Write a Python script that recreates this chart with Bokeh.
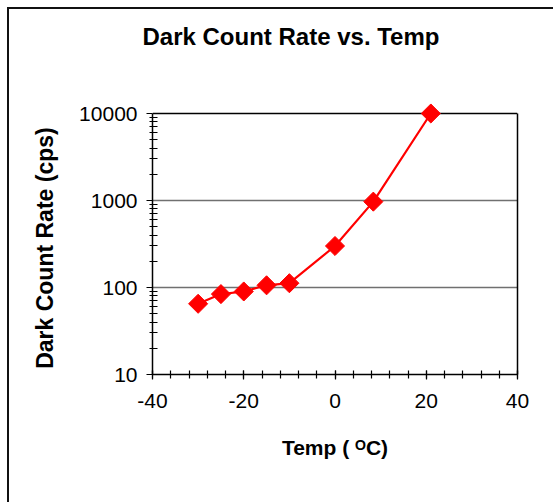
import math
from bokeh.plotting import figure
from bokeh.models import (FixedTicker, NumeralTickFormatter, Title, Span, LogAxis)
from bokeh.embed import file_html
from bokeh.resources import INLINE

# ---- data ----
temps = [-30, -25, -20, -15, -10, 0, 8.4, 21]
rates = [65, 84, 90, 106, 112, 300, 970, 10000]

x_ticks = [-40, -20, 0, 20, 40]
x_minor = list(range(-40, 41, 4))
y_ticks = [10, 100, 1000, 10000]
y_minor = [m * d for d in (10, 100, 1000) for m in range(2, 10)]
grid_levels = [100, 1000]

title_text = "Dark Count Rate vs. Temp"
y_label = "Dark Count Rate (cps)"
x_label = "Temp ( \u1D3CC)"

FONT = "Liberation Sans"

# layout: the plotted decades take 261 px; a little head-room above the top
# value lets the top marker show in full (the frame itself is drawn by axes)
core_h = 261
pad_px = 11
y_lo, y_hi = y_ticks[0], y_ticks[-1]
decades = math.log10(y_hi / y_lo)
y_end = y_hi * 10 ** (decades * pad_px / core_h)

p = figure(width=546, height=495, y_axis_type="log",
           x_range=(x_ticks[0], x_ticks[-1]), y_range=(y_lo, y_end),
           output_backend="svg", toolbar_location=None,
           min_border_left=143, min_border_right=38,
           min_border_top=104 - pad_px, min_border_bottom=130)

p.styles = {"margin-left": "7px", "margin-top": "7px",
            "border-left": "2px solid #111", "border-top": "2px solid #111"}

p.background_fill_color = "white"
p.border_fill_color = "white"
p.outline_line_color = None

# spacer between the frame and the title (nearest the frame)
p.add_layout(Title(text=" ", text_font_size="1px", standoff=50), "above")

# title (outermost)
p.title.text = title_text
p.title.text_font = FONT
p.title.text_font_size = "24px"
p.title.text_font_style = "bold"
p.title.text_color = "black"
p.title.align = "left"
p.title.offset = -10
p.title.standoff = 0

# grids
p.xgrid.grid_line_color = None
p.ygrid.ticker = FixedTicker(ticks=grid_levels)
p.ygrid.grid_line_color = "#707070"
p.ygrid.grid_line_width = 1.5

# top edge of the plot area
p.add_layout(Span(location=y_hi, dimension="width", line_color="black",
                  line_width=1.5, level="underlay"))

# right edge of the plot area
ra = LogAxis(bounds=(y_lo, y_hi), ticker=FixedTicker(ticks=[]),
             axis_line_color="black", axis_line_width=1.5,
             major_tick_in=0, major_tick_out=0, minor_tick_in=0, minor_tick_out=0,
             major_label_text_font_size="0px")
p.add_layout(ra, "right")

# x axis
xa = p.xaxis[0]
xa.ticker = FixedTicker(ticks=x_ticks, minor_ticks=x_minor)
xa.formatter = NumeralTickFormatter(format="0")
xa.axis_line_color = "black"
xa.axis_line_width = 1.5
xa.major_tick_in = 4
xa.major_tick_out = 5
xa.minor_tick_in = 4
xa.minor_tick_out = 4
xa.major_tick_line_color = "black"
xa.minor_tick_line_color = "black"
xa.major_tick_line_width = 1.2
xa.minor_tick_line_width = 1.2
xa.major_label_text_font = FONT
xa.major_label_text_font_size = "21px"
xa.major_label_text_color = "black"
xa.major_label_standoff = 14
xa.axis_label = x_label
xa.axis_label_text_font = FONT
xa.axis_label_text_font_size = "21px"
xa.axis_label_text_font_style = "bold"
xa.axis_label_text_color = "black"
xa.axis_label_standoff = 25

# y axis
ya = p.yaxis[0]
ya.bounds = (y_lo, y_hi)
ya.ticker = FixedTicker(ticks=y_ticks, minor_ticks=y_minor)
ya.formatter = NumeralTickFormatter(format="0")
ya.axis_line_color = "black"
ya.axis_line_width = 1.5
ya.major_tick_in = 0
ya.major_tick_out = 6
ya.minor_tick_in = 5
ya.minor_tick_out = 3
ya.major_tick_line_color = "black"
ya.minor_tick_line_color = "black"
ya.major_tick_line_width = 1.2
ya.minor_tick_line_width = 1.2
ya.major_label_text_font = FONT
ya.major_label_text_font_size = "21px"
ya.major_label_text_color = "black"
ya.major_label_standoff = 9
ya.axis_label = y_label + "\u00a0\u00a0\u00a0"
ya.axis_label_text_font = FONT
ya.axis_label_text_font_size = "23px"
ya.axis_label_text_font_style = "bold"
ya.axis_label_text_color = "black"
ya.axis_label_standoff = 18

# data
p.line(temps, rates, line_color="#FF0000", line_width=2.2)
p.scatter(temps, rates, marker="square", angle=math.pi / 4, size=13.5,
          fill_color="#FF0000", line_color="#FF0000")

open("out.html", "w").write(file_html(p, INLINE))
